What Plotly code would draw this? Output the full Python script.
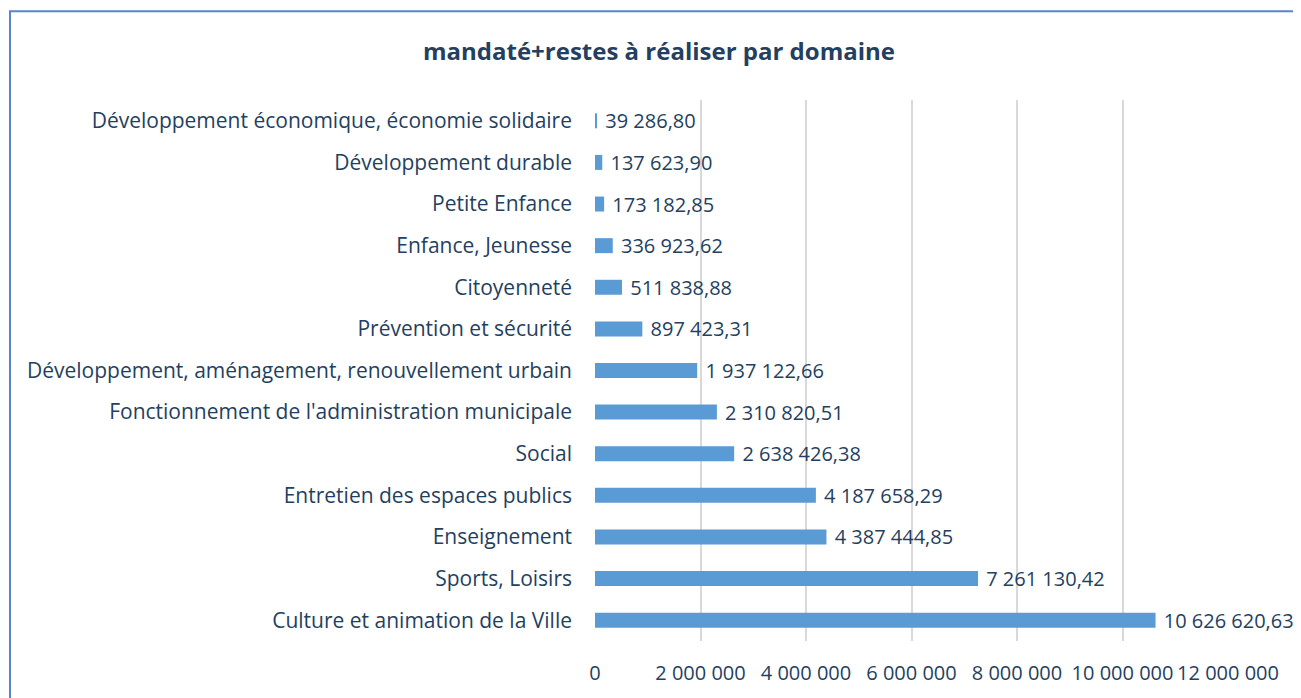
import plotly.graph_objects as go

categories = [
    "Culture et animation de la Ville",
    "Sports, Loisirs",
    "Enseignement",
    "Entretien des espaces publics",
    "Social",
    "Fonctionnement de l'administration municipale",
    "Développement, aménagement, renouvellement urbain",
    "Prévention et sécurité",
    "Citoyenneté",
    "Enfance, Jeunesse",
    "Petite Enfance",
    "Développement durable",
    "Développement économique, économie solidaire",
]
values = [
    10626620.63, 7261130.42, 4387444.85, 4187658.29, 2638426.38,
    2310820.51, 1937122.66, 897423.31, 511838.88, 336923.62,
    173182.85, 137623.90, 39286.80,
]
tick_values = [0, 2000000, 4000000, 6000000, 8000000, 10000000, 12000000]


def fr(v):
    s = f"{v:,.2f}"
    return s.replace(",", " ").replace(".", ",")


labels = [" " + fr(v) for v in values]

OFF = 8  # default page body margin
W, H = 1301 - OFF, 698 - OFF
L, R, T, B = 595 - OFF, 1228 - OFF, 100 - OFF, 643 - OFF
TXT = "#243F60"
FONT = "Open Sans"

fig = go.Figure(go.Bar(
    y=categories, x=values, orientation="h",
    marker=dict(color="#5B9BD5", line=dict(width=0)),
    text=labels, textposition="outside", cliponaxis=False,
    constraintext="none",
    textfont=dict(color=TXT, size=20, family=FONT),
))

fig.update_layout(
    width=W, height=H,
    margin=dict(l=L, r=W - R, t=T, b=H - B, pad=0),
    paper_bgcolor="white", plot_bgcolor="white",
    separators=", ",
    bargap=0.64,
    showlegend=False,
    title=dict(text="<b>mandaté+restes à réaliser par domaine</b>",
               x=(659 - OFF) / W, xanchor="center", y=1 - (52 - OFF) / H, yanchor="middle",
               font=dict(size=24, color=TXT, family=FONT)),
    font=dict(family=FONT, size=20, color=TXT),
    xaxis=dict(range=[0, 12000000], tickvals=tick_values, tickformat=",d",
               tickangle=0,
               showgrid=True, gridcolor="#D9D9D9", gridwidth=2,
               zeroline=False, showline=False, ticks="",
               ticklabelstandoff=18,
               tickfont=dict(size=20, color=TXT, family=FONT)),
    yaxis=dict(categoryorder="array", categoryarray=categories,
               showgrid=False, zeroline=False, showline=False, ticks="",
               ticklabelstandoff=22,
               tickfont=dict(size=21, color=TXT, family=FONT)),
    shapes=[dict(type="rect", xref="paper", yref="paper",
                 x0=(10 - 595) / (1228 - 595), x1=(1320 - 595) / (1228 - 595),
                 y0=(643 - 720) / (643 - 100), y1=(643 - 11) / (643 - 100),
                 line=dict(color="#5B84C8", width=2), fillcolor="rgba(0,0,0,0)",
                 layer="below")],
)

fig.write_html("out.html")
